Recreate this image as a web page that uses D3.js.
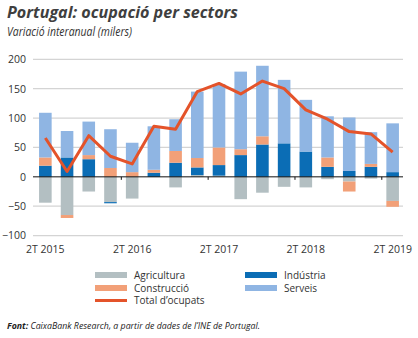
<!DOCTYPE html>
<html>
<head>
<meta charset="utf-8">
<script src="https://cdn.jsdelivr.net/npm/d3@7"></script>
<style>
  html, body { margin: 0; padding: 0; background: #fff; }
  svg { display: block; }
</style>
</head>
<body>
<svg id="chart" width="418" height="338"></svg>
<script>
// Quarters from 2T 2015 to 2T 2019
const quarters = ["2T 2015","3T 2015","4T 2015","1T 2016","2T 2016","3T 2016","4T 2016","1T 2017",
                  "2T 2017","3T 2017","4T 2017","1T 2018","2T 2018","3T 2018","4T 2018","1T 2019","2T 2019"];
const tickLabels = ["2T 2015","2T 2016","2T 2017","2T 2018","2T 2019"];

// Year-on-year change in employment by sector (thousands)
const agricultura = [-44, -65, -25, -43, -37, 0, -18, 3, 2, -38, -27, -17, -18, -4, -8, -3, -41];
const industria   = [19, 33, 30, -2, 0, 7, 24, 13, 18, 37, 55, 57, 43, 17, 10, 17, 8];
const construccio = [14, -5, 7, 15, 8, 5, 20, 16, 30, 10, 14, 0, 0, 16, -17, 5, -10];
const serveis     = [76, 45, 57, 66, 50, 74, 54, 113, 108, 132, 120, 108, 88, 70, 91, 54, 83];
const totalOcupats = [66, 9, 70, 35, 22, 86, 81, 145, 159, 141, 163, 150, 114, 98, 77, 73, 42];

const yTicks = [-100, -50, 0, 50, 100, 150, 200];

const seriesKeys = ["Agricultura", "Indústria", "Construcció", "Serveis"];
const seriesValues = [agricultura, industria, construccio, serveis];
const colors = {
  "Agricultura": "#b3bfc2",
  "Indústria": "#0b6db5",
  "Construcció": "#f2a078",
  "Serveis": "#8fb5e3"
};
const lineColor = "#e4532a";

const rows = quarters.map((q, i) => {
  const r = { q };
  seriesKeys.forEach((k, j) => r[k] = seriesValues[j][i]);
  return r;
});

const svg = d3.select("#chart");

const x = d3.scaleBand().domain(quarters).range([34.5, 403.5]).paddingInner(0.42).paddingOuter(0.21);
const y = d3.scaleLinear().domain([-100, 200]).range([235.6, 59.3]);

// Title and subtitle
svg.append("text").attr("x", 7).attr("y", 18)
  .attr("font-family", "'Open Sans', sans-serif").attr("font-weight", "bold").attr("font-style", "italic")
  .attr("font-size", 15.5).attr("fill", "#3f3f3f").attr("textLength", 231).attr("lengthAdjust", "spacingAndGlyphs")
  .text("Portugal: ocupació per sectors");
svg.append("text").attr("x", 7).attr("y", 36)
  .attr("font-family", "'Open Sans', sans-serif").attr("font-style", "italic")
  .attr("font-size", 13.5).attr("fill", "#333").attr("textLength", 125).attr("lengthAdjust", "spacingAndGlyphs")
  .text("Variació interanual (milers)");

// Horizontal gridlines
svg.append("g").selectAll("line").data(yTicks.filter(d => d !== 0)).join("line")
  .attr("x1", 33).attr("x2", 403).attr("y1", d => y(d)).attr("y2", d => y(d))
  .attr("stroke", "#d4d4d4").attr("stroke-width", 1.2);

// Y axis labels
const yAxis = d3.axisLeft(y).tickValues(yTicks).tickSize(0).tickPadding(0);
const gy = svg.append("g").attr("transform", "translate(26,0)").call(yAxis);
gy.select(".domain").remove();
gy.selectAll("text").attr("font-family", "'Open Sans', sans-serif").attr("font-size", 10.5).attr("fill", "#333");

// Stacked bars, positives up and negatives down from zero
const stack = d3.stack().keys(seriesKeys).offset(d3.stackOffsetDiverging);
const stacked = stack(rows);

svg.append("g").selectAll("g").data(stacked).join("g")
  .attr("fill", d => colors[d.key])
  .selectAll("rect").data(d => d).join("rect")
  .attr("x", d => x(d.data.q))
  .attr("width", x.bandwidth())
  .attr("y", d => y(Math.max(d[0], d[1])))
  .attr("height", d => Math.abs(y(d[0]) - y(d[1])));

// Zero line with small ticks every four quarters
svg.append("line").attr("x1", 33).attr("x2", 403).attr("y1", y(0)).attr("y2", y(0))
  .attr("stroke", "#111").attr("stroke-width", 1);
const step = x.step();
const tickPos = d3.range(0, quarters.length, 4).map(i => x(quarters[i]) - step * x.paddingInner() / 2);
svg.append("g").selectAll("line").data(tickPos.slice(1)).join("line")
  .attr("x1", d => d).attr("x2", d => d).attr("y1", y(0)).attr("y2", y(0) + 3)
  .attr("stroke", "#111").attr("stroke-width", 1);

// X axis labels
svg.append("g").selectAll("text").data(tickLabels).join("text")
  .attr("x", d => x(d) + x.bandwidth() / 2).attr("y", 253)
  .attr("text-anchor", "middle")
  .attr("font-family", "'Open Sans', sans-serif").attr("font-size", 10.5).attr("fill", "#333")
  .text(d => d);

// Total employment line
const line = d3.line().x((d, i) => x(quarters[i]) + x.bandwidth() / 2).y(d => y(d));
svg.append("path").datum(totalOcupats).attr("d", line)
  .attr("fill", "none").attr("stroke", lineColor).attr("stroke-width", 3).attr("stroke-linejoin", "round");

// Legend
const legendItems = [
  { label: "Agricultura", color: colors["Agricultura"], type: "bar", x: 95, y: 275 },
  { label: "Indústria", color: colors["Indústria"], type: "bar", x: 245, y: 275 },
  { label: "Construcció", color: colors["Construcció"], type: "bar", x: 95, y: 288 },
  { label: "Serveis", color: colors["Serveis"], type: "bar", x: 245, y: 288 },
  { label: "Total d’ocupats", color: lineColor, type: "line", x: 95, y: 300.5 }
];
const lg = svg.append("g").selectAll("g").data(legendItems).join("g");
lg.append("rect")
  .attr("x", d => d.x).attr("width", 32)
  .attr("y", d => d.type === "bar" ? d.y - 3 : d.y - 1.5)
  .attr("height", d => d.type === "bar" ? 6 : 3)
  .attr("fill", d => d.color);
lg.append("text")
  .attr("x", d => d.x + 39).attr("y", d => d.y + 3.5)
  .attr("font-family", "'Open Sans', sans-serif").attr("font-size", 10).attr("fill", "#333")
  .text(d => d.label);

// Source note
const src = svg.append("text").attr("x", 7).attr("y", 329)
  .attr("font-family", "'Open Sans', sans-serif").attr("font-style", "italic")
  .attr("font-size", 9.5).attr("fill", "#222")
  .attr("textLength", 253).attr("lengthAdjust", "spacingAndGlyphs");
src.append("tspan").attr("font-weight", "bold").text("Font: ");
src.append("tspan").text("CaixaBank Research, a partir de dades de l’INE de Portugal.");
</script>
</body>
</html>
